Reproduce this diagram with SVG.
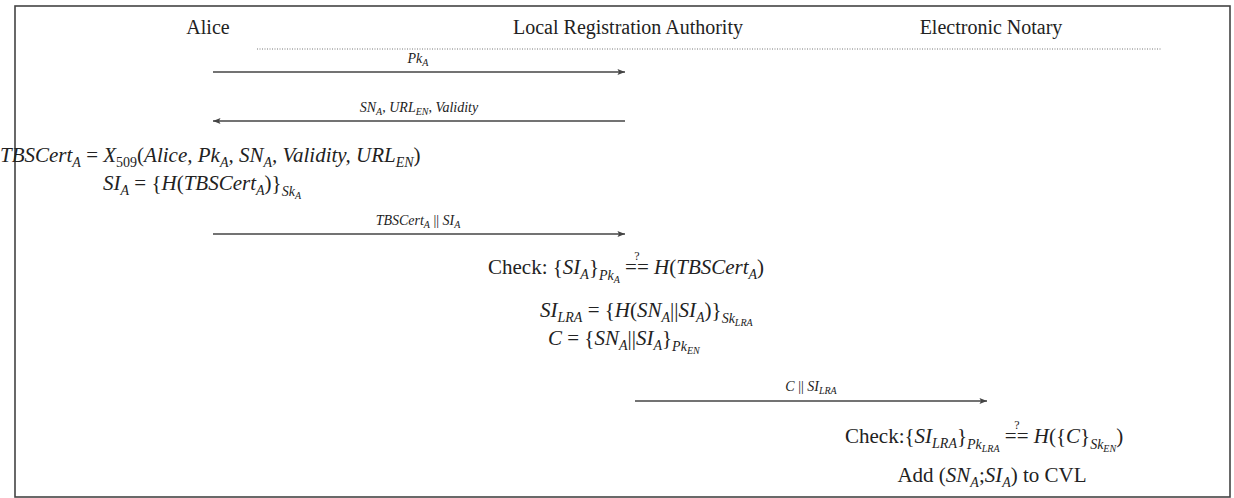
<svg xmlns="http://www.w3.org/2000/svg" width="1234" height="498" viewBox="0 0 1234 498">
<defs>
<style>
.hd{font-family:"Liberation Serif",serif;font-size:20px;fill:#222}
.mt{font-family:"Liberation Serif",serif;font-size:21px;fill:#222}
.lb{font-family:"Liberation Serif",serif;font-size:14px;font-style:italic;fill:#222}
.i{font-style:italic}
.s{font-size:14px}
.ls{font-size:10px}
.q{font-family:"Liberation Serif",serif;font-size:12px;fill:#222}
.ln{stroke:#444;stroke-width:1.6;fill:none}
</style>
<marker id="ah" viewBox="0 0 10 8" refX="10" refY="4" markerWidth="8" markerHeight="6" orient="auto-start-reverse" markerUnits="userSpaceOnUse">
<path d="M0,0 L10,4 L0,8 L2,4 z" fill="#444"/>
</marker>
</defs>
<rect x="15" y="6" width="1215" height="491" fill="#fff" stroke="#444" stroke-width="1.6"/>
<g id="headers">
<g id="alice"><text class="hd" x="208" y="34" text-anchor="middle">Alice</text></g>
<g id="lra"><text class="hd" x="628" y="34" text-anchor="middle">Local Registration Authority</text></g>
<g id="en"><text class="hd" x="991" y="34" text-anchor="middle">Electronic Notary</text></g>
</g>
<line x1="257" y1="49" x2="1162" y2="49" stroke="#777" stroke-width="1" stroke-dasharray="1,1.5"/>
<g id="connectors">
<line class="ln" x1="213" y1="72" x2="625" y2="72" marker-end="url(#ah)"/>
<line class="ln" x1="625" y1="121" x2="213" y2="121" marker-end="url(#ah)"/>
<line class="ln" x1="213" y1="234" x2="625" y2="234" marker-end="url(#ah)"/>
<line class="ln" x1="635" y1="401" x2="987" y2="401" marker-end="url(#ah)"/>
<text class="lb" x="418" y="63" text-anchor="middle">Pk<tspan class="ls" dy="3">A</tspan></text>
<text class="lb" x="419" y="112" text-anchor="middle">SN<tspan class="ls" dy="3">A</tspan><tspan dy="-3" font-style="normal">, </tspan>URL<tspan class="ls" dy="3">EN</tspan><tspan dy="-3" font-style="normal">, </tspan>Validity</text>
<text class="lb" x="418" y="225" text-anchor="middle">TBSCert<tspan class="ls" dy="3">A</tspan><tspan dy="-3" font-style="normal"> || </tspan>SI<tspan class="ls" dy="3">A</tspan></text>
<text class="lb" x="811" y="391" text-anchor="middle">C<tspan font-style="normal"> || </tspan>SI<tspan class="ls" dy="3">LRA</tspan></text>
</g>
<g id="alice-compute">
<text class="mt" x="0" y="162"><tspan class="i">TBSCert</tspan><tspan class="s i" dy="5">A</tspan><tspan dy="-5"> = </tspan><tspan class="i">X</tspan><tspan class="s" dy="5">509</tspan><tspan dy="-5">(</tspan><tspan class="i">Alice, Pk</tspan><tspan class="s i" dy="5">A</tspan><tspan dy="-5" class="i">, SN</tspan><tspan class="s i" dy="5">A</tspan><tspan dy="-5" class="i">, Validity, URL</tspan><tspan class="s i" dy="5">EN</tspan><tspan dy="-5">)</tspan></text>
<text class="mt" x="103" y="190"><tspan class="i">SI</tspan><tspan class="s i" dy="5">A</tspan><tspan dy="-5"> = {</tspan><tspan class="i">H</tspan>(<tspan class="i">TBSCert</tspan><tspan class="s i" dy="5">A</tspan><tspan dy="-5">)}</tspan><tspan class="s i" dy="6">Sk</tspan><tspan class="ls i" dy="3">A</tspan></text>
</g>
<g id="lra-compute">
<text class="mt" x="488" y="274">Check: {<tspan class="i">SI</tspan><tspan class="s i" dy="5">A</tspan><tspan dy="-5">}</tspan><tspan class="s i" dy="6">Pk</tspan><tspan class="ls i" dy="3">A</tspan><tspan dy="-9"> == </tspan><tspan class="i">H</tspan>(<tspan class="i">TBSCert</tspan><tspan class="s i" dy="5">A</tspan><tspan dy="-5">)</tspan></text>
<text class="q" x="637" y="260" text-anchor="middle">?</text>
<text class="mt" x="540" y="317"><tspan class="i">SI</tspan><tspan class="s i" dy="5">LRA</tspan><tspan dy="-5"> = {</tspan><tspan class="i">H</tspan>(<tspan class="i">SN</tspan><tspan class="s i" dy="5">A</tspan><tspan dy="-5">||</tspan><tspan class="i">SI</tspan><tspan class="s i" dy="5">A</tspan><tspan dy="-5">)}</tspan><tspan class="s i" dy="6">Sk</tspan><tspan class="ls i" dy="3">LRA</tspan></text>
<text class="mt" x="548" y="345"><tspan class="i">C</tspan> = {<tspan class="i">SN</tspan><tspan class="s i" dy="5">A</tspan><tspan dy="-5">||</tspan><tspan class="i">SI</tspan><tspan class="s i" dy="5">A</tspan><tspan dy="-5">}</tspan><tspan class="s i" dy="6">Pk</tspan><tspan class="ls i" dy="3">EN</tspan></text>
</g>
<g id="en-compute">
<text class="mt" x="845" y="443">Check:{<tspan class="i">SI</tspan><tspan class="s i" dy="5">LRA</tspan><tspan dy="-5">}</tspan><tspan class="s i" dy="6">Pk</tspan><tspan class="ls i" dy="3">LRA</tspan><tspan dy="-9"> == </tspan><tspan class="i">H</tspan>({<tspan class="i">C</tspan>}<tspan class="s i" dy="6">Sk</tspan><tspan class="ls i" dy="3">EN</tspan><tspan dy="-9">)</tspan></text>
<text class="q" x="1017" y="429" text-anchor="middle">?</text>
<text class="mt" x="992" y="482" text-anchor="middle">Add (<tspan class="i">SN</tspan><tspan class="s i" dy="5">A</tspan><tspan dy="-5">;</tspan><tspan class="i">SI</tspan><tspan class="s i" dy="5">A</tspan><tspan dy="-5">) to CVL</tspan></text>
</g>
</svg>
